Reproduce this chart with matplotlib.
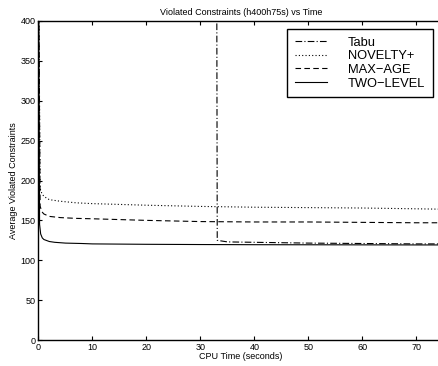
import matplotlib.pyplot as plt

plt.rcParams['font.family'] = ['Liberation Sans', 'DejaVu Sans']

# CPU time (seconds) and average violated constraints
t_tabu = [0.0, 33.0, 33.1, 35, 40, 50, 60, 70, 75]
v_tabu = [480, 480, 125, 123, 122.5, 121.5, 121, 120.5, 120.5]

t_nov = [0.0, 0.3, 0.6, 1, 2, 4, 7, 10, 15, 20, 30, 40, 50, 60, 70, 75]
v_nov = [480, 190, 184, 180, 176, 174, 172, 171, 170, 169, 167.5, 166.5, 166, 165.5, 164.5, 164]

t_max = [0.0, 0.3, 0.6, 1, 2, 4, 7, 10, 15, 20, 30, 40, 50, 60, 70, 75]
v_max = [480, 168, 161, 158, 155, 153.5, 152.5, 152, 151, 150, 148.5, 148, 148, 147.5, 147, 147]

t_two = [0.0, 0.2, 0.4, 0.7, 1, 2, 3, 5, 8, 10, 20, 30, 40, 50, 60, 70, 75]
v_two = [480, 145, 133, 128, 126, 123.5, 122.5, 121.5, 121, 120.5, 120, 119.7, 119.5, 119.4, 119.3, 119.2, 119.2]

fig = plt.figure(figsize=(4.39, 3.66), dpi=100)
ax = fig.add_axes([38.5 / 439, 1 - 340 / 366, 405 / 439, 319 / 366])

ax.plot(t_tabu, v_tabu, color='black', lw=0.8, linestyle=(0, (6, 2, 1, 2)), label='Tabu')
ax.plot(t_nov, v_nov, color='black', lw=0.8, linestyle=(0, (1, 2)), label='NOVELTY+')
ax.plot(t_max, v_max, color='black', lw=0.8, linestyle=(0, (5, 3)), label='MAX\u2212AGE')
ax.plot(t_two, v_two, color='black', lw=0.8, linestyle='-', label='TWO\u2212LEVEL')

ax.set_xlim(0, 75)
ax.set_ylim(0, 400)
ax.set_xticks(range(0, 71, 10))
ax.set_yticks(range(0, 401, 50))
ax.tick_params(direction='in', top=True, right=False, labelsize=6.5, length=3, width=0.8, pad=2)
for s in ax.spines.values():
    s.set_linewidth(1.0)

ax.set_title('Violated Constraints (h400h75s) vs Time', fontsize=6.5, pad=4)
ax.set_xlabel('CPU Time (seconds)', fontsize=6.5, labelpad=0)
ax.set_ylabel('Average Violated Constraints', fontsize=6.5, labelpad=2)

leg = ax.legend(loc='upper right', bbox_to_anchor=(433 / 439, 1 - 29 / 366),
                bbox_transform=fig.transFigure, borderaxespad=0, fontsize=9.3,
                fancybox=False, framealpha=1, edgecolor='black', handlelength=2.5,
                labelspacing=0.12, borderpad=0.6, handletextpad=1.6)
leg.get_frame().set_linewidth(1.0)

fig.savefig('out.png', dpi=100)
